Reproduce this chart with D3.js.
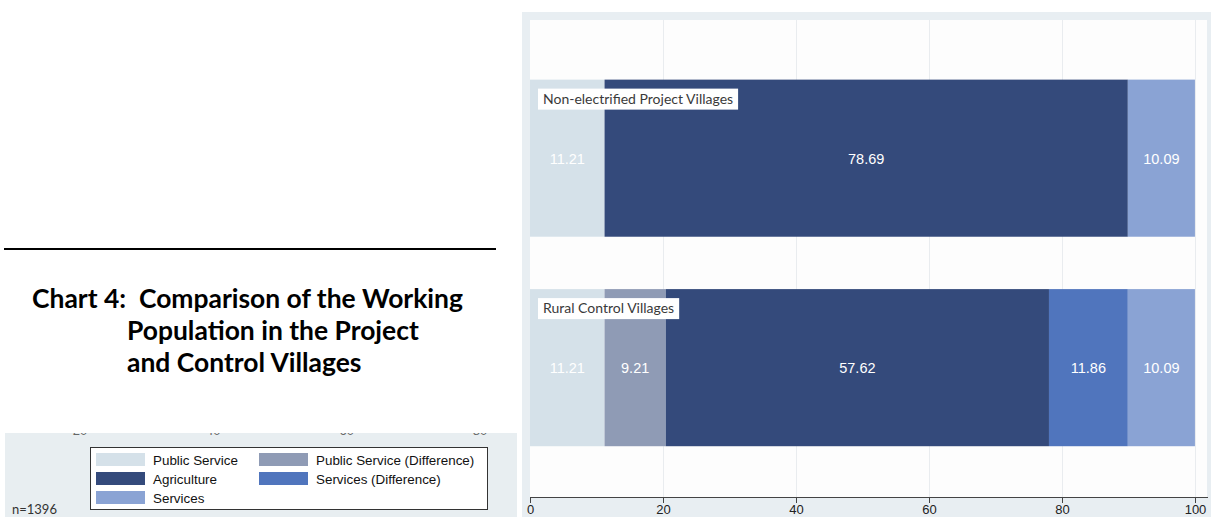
<!DOCTYPE html>
<html>
<head>
<meta charset="utf-8">
<script src="https://cdn.jsdelivr.net/npm/d3@7"></script>
<style>
  body { margin: 0; background: #ffffff; }
  svg { display: block; }
</style>
</head>
<body>
<svg id="chart" width="1211" height="517"></svg>
<script>
// ---- data -------------------------------------------------------------
const groups = ["Non-electrified Project Villages", "Rural Control Villages"];
const seriesNames = ["Public Service", "Public Service (Difference)", "Agriculture",
                     "Services (Difference)", "Services"];
const publicService     = [11.21, 11.21];
const publicServiceDiff = [0, 9.21];
const agriculture       = [78.69, 57.62];
const servicesDiff      = [0, 11.86];
const services          = [10.09, 10.09];
const xTicks = [0, 20, 40, 60, 80, 100];
const stripTicks = [20, 40, 60, 80];
const seriesColors = ["#d5e1e9", "#8f9bb5", "#344a7b", "#5075bd", "#8aa3d4"];
const titleLines = ["Chart 4:  Comparison of the Working",
                    "Population in the Project",
                    "and Control Villages"];
const sampleNote = "n=1396";

// ---- setup ------------------------------------------------------------
const svg = d3.select("#chart");
const W = 1211, H = 517;
svg.append("rect").attr("width", W).attr("height", H).attr("fill", "#ffffff");

const rows = groups.map((g, i) => ({
  group: g,
  [seriesNames[0]]: publicService[i],
  [seriesNames[1]]: publicServiceDiff[i],
  [seriesNames[2]]: agriculture[i],
  [seriesNames[3]]: servicesDiff[i],
  [seriesNames[4]]: services[i]
}));
const stacked = d3.stack().keys(seriesNames)(rows);
const color = d3.scaleOrdinal().domain(seriesNames).range(seriesColors);

// ---- left side: rule and title ------------------------------------------
svg.append("line")
  .attr("x1", 4).attr("x2", 496).attr("y1", 249).attr("y2", 249)
  .attr("stroke", "#000").attr("stroke-width", 2);

const titleFont = "Lato, 'Open Sans', sans-serif";
const t1 = svg.append("text")
  .attr("x", 32).attr("y", 308)
  .attr("font-family", titleFont).attr("font-weight", 700)
  .attr("font-size", 22).attr("fill", "#000")
  .style("white-space", "pre")
  .text(titleLines[0]);
const fitSize = 22 * 431 / t1.node().getComputedTextLength();
t1.attr("font-size", fitSize);
[340, 372].forEach((y, i) => {
  svg.append("text")
    .attr("x", 127).attr("y", y)
    .attr("font-family", titleFont).attr("font-weight", 700)
    .attr("font-size", fitSize).attr("fill", "#000")
    .text(titleLines[i + 1]);
});

// ---- left side: legend strip ----------------------------------------------
const strip = svg.append("g");
strip.append("rect")
  .attr("x", 5).attr("y", 433).attr("width", 512).attr("height", 84)
  .attr("fill", "#e8eef1");

// clipped remnants of an axis label row along the strip's upper edge
const stripX = d3.scaleLinear().domain([20, 80]).range([80, 480]);
strip.append("clipPath").attr("id", "stripClip")
  .append("rect").attr("x", 5).attr("y", 433).attr("width", 512).attr("height", 3);
strip.append("g").attr("clip-path", "url(#stripClip)")
  .selectAll("text").data(stripTicks).join("text")
  .attr("x", d => stripX(d)).attr("y", 435)
  .attr("text-anchor", "middle")
  .attr("font-family", "'Liberation Sans', Arial, sans-serif")
  .attr("font-size", 13).attr("fill", "#666")
  .text(d => d);

const legend = strip.append("g");
legend.append("rect")
  .attr("x", 90.5).attr("y", 447.5).attr("width", 397).attr("height", 62)
  .attr("fill", "#ffffff").attr("stroke", "#333").attr("stroke-width", 1);
const legendItems = legend.selectAll("g.item").data(seriesNames).join("g")
  .attr("class", "item")
  .attr("transform", (d, i) => `translate(${i % 2 === 0 ? 96 : 259},${453 + Math.floor(i / 2) * 19})`);
legendItems.append("rect")
  .attr("width", 49).attr("height", 13)
  .attr("fill", d => color(d));
legendItems.append("text")
  .attr("x", 57).attr("y", 11.5)
  .attr("font-family", "'Liberation Sans', Arial, sans-serif")
  .attr("font-size", 13.4).attr("fill", "#111")
  .text(d => d);

svg.append("text")
  .attr("x", 12).attr("y", 514)
  .attr("font-family", "Lato, sans-serif")
  .attr("font-size", 13).attr("fill", "#333")
  .text(sampleNote);

// ---- right side: stacked bar chart ----------------------------------------
const outer = { x: 522, y: 12 };
const plot = { left: 530, right: 1207, top: 20, bottom: 497 };

svg.append("rect")
  .attr("x", outer.x).attr("y", outer.y)
  .attr("width", W - outer.x).attr("height", H - outer.y)
  .attr("fill", "#e8eef2");
svg.append("rect")
  .attr("x", plot.left).attr("y", plot.top)
  .attr("width", plot.right - plot.left).attr("height", plot.bottom - plot.top)
  .attr("fill", "#fdfdfd");

const x = d3.scaleLinear().domain([0, 100]).range([530, 1195]);
const y = d3.scaleBand().domain(groups)
  .range([plot.top, plot.bottom])
  .paddingInner(0.25).paddingOuter(0.2635).align(0.54);

// vertical grid
svg.append("g").selectAll("line").data(xTicks.filter(d => d > 0)).join("line")
  .attr("x1", d => x(d) + 0.5).attr("x2", d => x(d) + 0.5)
  .attr("y1", plot.top).attr("y2", plot.bottom)
  .attr("stroke", "#e9ecef").attr("stroke-width", 1);

// stacked segments
const layers = svg.append("g").selectAll("g").data(stacked).join("g")
  .attr("fill", d => color(d.key));
layers.selectAll("rect").data(d => d.map(s => ({ key: d.key, s })))
  .join("rect")
  .attr("x", d => x(d.s[0]))
  .attr("y", d => y(d.s.data.group))
  .attr("width", d => x(d.s[1]) - x(d.s[0]))
  .attr("height", y.bandwidth());

// value labels
const valueLabels = [];
stacked.forEach(layer => layer.forEach(s => {
  const v = s[1] - s[0];
  if (v > 0) valueLabels.push({ v: s.data[layer.key], mid: (s[0] + s[1]) / 2, group: s.data.group });
}));
svg.append("g").selectAll("text").data(valueLabels).join("text")
  .attr("x", d => x(d.mid))
  .attr("y", d => y(d.group) + y.bandwidth() / 2)
  .attr("dy", "0.4em")
  .attr("text-anchor", "middle")
  .attr("font-family", "'Liberation Sans', Arial, sans-serif")
  .attr("font-size", 14.5).attr("fill", "#ffffff")
  .text(d => d3.format(".2f")(d.v));

// group captions
const caps = svg.append("g").selectAll("g").data(groups).join("g")
  .attr("transform", d => `translate(538,${y(d) + 9})`);
caps.append("text")
  .attr("x", 5).attr("y", 15)
  .attr("font-family", "Lato, 'Open Sans', sans-serif")
  .attr("font-size", 14).attr("fill", "#3a3a3a")
  .text(d => d);
caps.each(function () {
  const g = d3.select(this);
  const w = g.select("text").node().getComputedTextLength();
  g.insert("rect", "text")
    .attr("width", w + 10).attr("height", 21)
    .attr("fill", "#ffffff");
});

// x axis
const axis = d3.axisBottom(x).tickValues(xTicks).tickSize(6).tickPadding(2);
const ax = svg.append("g")
  .attr("transform", `translate(0,${plot.bottom})`)
  .call(axis);
ax.select(".domain").attr("stroke", "#444").attr("d", `M${plot.left},0.5H1208`);
ax.selectAll(".tick line").attr("stroke", "#444");
ax.selectAll(".tick text")
  .attr("font-family", "'Liberation Sans', Arial, sans-serif")
  .attr("font-size", 13).attr("fill", "#222");
</script>
</body>
</html>
